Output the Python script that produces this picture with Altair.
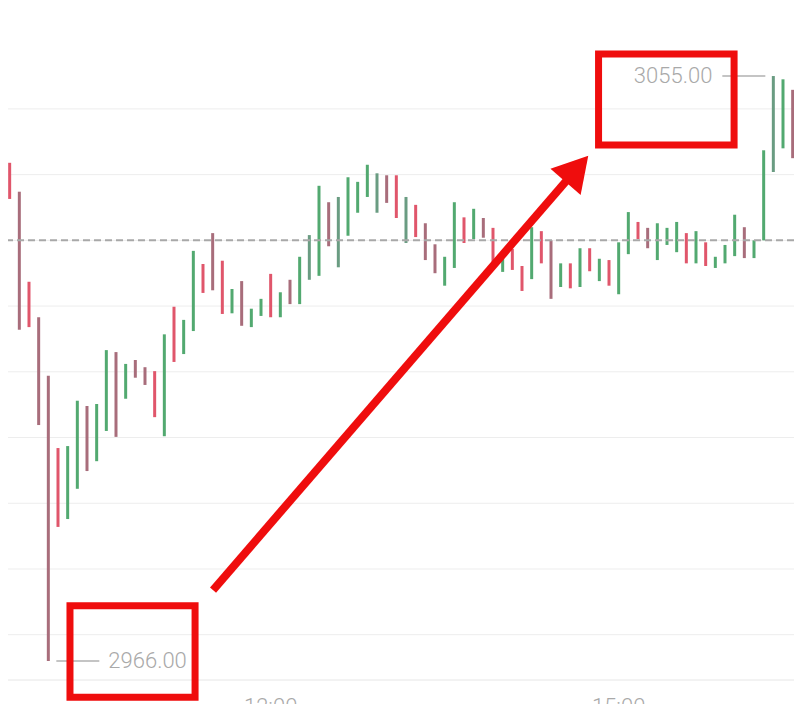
import altair as alt
import pandas as pd

# ---------------- data ----------------
START = "09:40"          # first (cut-off) bar
STEP_MIN = 5             # 5-minute bars
HIGH = [3046.9, 3041.8, 3037.4, 3023.7, 3018.3, 3009.4, 2998.4, 2998.7, 3005.6, 3004.8,
        3005.1, 3013.3, 3013.0, 3011.2, 3011.8, 3010.7, 3010.1, 3015.7, 3019.9, 3017.9,
        3028.4, 3026.4, 3031.1, 3026.9, 3022.6, 3023.8, 3019.6, 3021.1, 3024.9, 3022.1,
        3024.0, 3027.5, 3030.8, 3038.3, 3035.8, 3036.6, 3039.6, 3038.9, 3041.5, 3040.2,
        3039.9, 3039.9, 3036.6, 3035.4, 3032.6, 3029.4, 3027.5, 3035.8, 3033.5, 3034.8,
        3033.4, 3031.9, 3028.4, 3028.7, 3026.1, 3032.0, 3031.4, 3030.0, 3026.5, 3026.5,
        3028.8, 3028.8, 3027.2, 3027.0, 3029.7, 3034.3, 3032.8, 3031.9, 3032.6, 3031.9,
        3032.8, 3031.1, 3031.4, 3029.7, 3027.5, 3029.3, 3033.9, 3032.0, 3030.0, 3043.7,
        3055.0, 3054.5, 3052.9, 3043.7]
LOW = [3039.8, 3036.3, 3016.4, 3016.8, 3001.9, 2966.0, 2986.4, 2987.6, 2992.2, 2994.9,
       2996.4, 3001.0, 3000.1, 3005.9, 3009.1, 3008.0, 3003.1, 3000.2, 3011.5, 3012.7,
       3016.2, 3022.0, 3022.4, 3018.8, 3018.9, 3017.0, 3016.8, 3018.5, 3018.3, 3018.3,
       3020.3, 3020.3, 3024.0, 3024.6, 3029.1, 3025.9, 3030.7, 3034.2, 3036.6, 3034.2,
       3035.7, 3033.4, 3029.6, 3030.5, 3027.0, 3025.0, 3023.1, 3025.8, 3029.6, 3030.2,
       3030.4, 3026.7, 3025.2, 3025.5, 3022.3, 3024.1, 3026.5, 3021.1, 3022.9, 3022.7,
       3022.9, 3025.3, 3023.8, 3023.1, 3021.8, 3027.9, 3030.2, 3028.8, 3027.0, 3029.3,
       3028.2, 3026.5, 3026.5, 3026.1, 3025.8, 3026.5, 3027.6, 3027.3, 3027.3, 3030.0,
       3040.4, 3044.0, 3042.5, 3039.2]
# G = up, g = up (greyish), R = down, M = down (muted)
DIR = ["R", "R", "M", "R", "M", "M", "R", "G", "G", "M",
       "G", "G", "M", "G", "M", "M", "R", "G", "R", "G",
       "G", "R", "M", "R", "G", "M", "G", "G", "R", "G",
       "M", "G", "g", "G", "M", "g", "G", "G", "G", "g",
       "M", "R", "g", "R", "M", "M", "G", "G", "R", "G",
       "M", "R", "G", "R", "R", "G", "R", "M", "G", "R",
       "G", "R", "G", "R", "G", "G", "R", "M", "G", "G",
       "G", "R", "G", "R", "G", "G", "G", "M", "G", "G",
       "g", "G", "M", "R"]
LAST_PRICE = 3030.0
GRID_PRICES = [2970, 2980, 2990, 3000, 3010, 3020, 3030, 3040, 3050]
TIME_TICKS = ["12:00", "15:00"]

DIR_CODES = ["G", "g", "R", "M"]
DIR_COLORS = ["#52a970", "#6a9c82", "#e0566b", "#a86d7b"]

# annotation geometry in data units (minutes of day, price)
BOX_HIGH = dict(t1=889.6, t2=959.7, p1=3044.5, p2=3058.35)
BOX_LOW = dict(t1=616.2, t2=680.9, p1=2960.5, p2=2974.4)
ARROW = dict(t1=690.2, p1=2976.8, t2=878.4, p2=3040.9)
ANNOT_RED = "#ef0d0d"
LABEL_GREY = "#a9a9a9"

# ---------------- layout ----------------
W, H = 786, 672
X_DOMAIN = [584.14, 990.69]
Y_DOMAIN = [2963.11, 3065.35]
PX_PER_MIN = W / (X_DOMAIN[1] - X_DOMAIN[0])


def to_min(s):
    h, m = s.split(":")
    return int(h) * 60 + int(m)


t0 = to_min(START)
df = pd.DataFrame({
    "t": [t0 + STEP_MIN * i for i in range(len(HIGH))],
    "hi": HIGH,
    "lo": LOW,
    "dir": DIR,
})

xs = alt.Scale(domain=X_DOMAIN, nice=False, zero=False)
ys = alt.Scale(domain=Y_DOMAIN, nice=False, zero=False)

# grid lines and bottom axis line
grid = alt.Chart(pd.DataFrame({"p": GRID_PRICES})).mark_rule(
    color="#ededed", strokeWidth=1
).encode(y=alt.Y("p:Q", scale=ys, axis=None))

bottom_line = alt.Chart(pd.DataFrame({"p": [0]})).mark_rule(
    color="#e6e6e6", strokeWidth=1
).encode(y=alt.value(H))

time_labels = alt.Chart(pd.DataFrame({
    "t": [to_min(s) for s in TIME_TICKS], "s": TIME_TICKS})).mark_text(
    align="center", baseline="top", font="Roboto", fontSize=22, fontWeight=300,
    color=LABEL_GREY
).encode(x=alt.X("t:Q", scale=xs, axis=None), y=alt.value(H + 17), text="s:N")

bars = alt.Chart(df).mark_rule(strokeWidth=3, strokeCap="butt", clip=True).encode(
    x=alt.X("t:Q", scale=xs, axis=None),
    y=alt.Y("hi:Q", scale=ys, axis=None),
    y2="lo:Q",
    color=alt.Color("dir:N", scale=alt.Scale(domain=DIR_CODES, range=DIR_COLORS),
                    legend=None),
)

last_line = alt.Chart(pd.DataFrame({"p": [LAST_PRICE]})).mark_rule(
    color="#a8a8a8", strokeWidth=2, strokeDash=[7, 4]
).encode(y=alt.Y("p:Q", scale=ys, axis=None))

# extreme labels
imax = df["hi"].idxmax()
imin = df["lo"].idxmin()
tmax, pmax = df.loc[imax, "t"], df.loc[imax, "hi"]
tmin, pmin = df.loc[imin, "t"], df.loc[imin, "lo"]
lead = pd.DataFrame({
    "a": [tmax - 8 / PX_PER_MIN, tmin + 8 / PX_PER_MIN],
    "b": [tmax - 51 / PX_PER_MIN, tmin + 51 / PX_PER_MIN],
    "p": [pmax, pmin],
})
leaders = alt.Chart(lead).mark_rule(color="#c4c4c4", strokeWidth=2).encode(
    x=alt.X("a:Q", scale=xs, axis=None), x2="b:Q",
    y=alt.Y("p:Q", scale=ys, axis=None))

txt_max = alt.Chart(pd.DataFrame({"t": [tmax], "p": [pmax], "s": [f"{pmax:.2f}"]})).mark_text(
    align="right", baseline="middle", dx=-61, font="Roboto", fontSize=22,
    fontWeight=300, color=LABEL_GREY
).encode(x=alt.X("t:Q", scale=xs, axis=None), y=alt.Y("p:Q", scale=ys, axis=None), text="s:N")

txt_min = alt.Chart(pd.DataFrame({"t": [tmin], "p": [pmin], "s": [f"{pmin:.2f}"]})).mark_text(
    align="left", baseline="middle", dx=60, font="Roboto", fontSize=22,
    fontWeight=300, color=LABEL_GREY
).encode(x=alt.X("t:Q", scale=xs, axis=None), y=alt.Y("p:Q", scale=ys, axis=None), text="s:N")

# red annotations
boxes = alt.Chart(pd.DataFrame([BOX_HIGH, BOX_LOW])).mark_rect(
    fillOpacity=0, stroke=ANNOT_RED, strokeWidth=7
).encode(
    x=alt.X("t1:Q", scale=xs, axis=None), x2="t2:Q",
    y=alt.Y("p1:Q", scale=ys, axis=None), y2="p2:Q")

arrow_line = alt.Chart(pd.DataFrame([ARROW])).mark_rule(
    color=ANNOT_RED, strokeWidth=8, strokeCap="butt"
).encode(
    x=alt.X("t1:Q", scale=xs, axis=None), x2="t2:Q",
    y=alt.Y("p1:Q", scale=ys, axis=None), y2="p2:Q")

arrow_head = alt.Chart(pd.DataFrame([ARROW])).mark_point(
    shape="triangle-up", filled=True, size=1600, angle=41, color=ANNOT_RED, opacity=1
).encode(
    x=alt.X("t2:Q", scale=xs, axis=None),
    y=alt.Y("p2:Q", scale=ys, axis=None))

chart = alt.layer(
    grid, bottom_line, time_labels, bars, last_line, leaders, txt_max, txt_min,
    boxes, arrow_line, arrow_head
).properties(
    width=W, height=H,
    autosize=alt.AutoSizeParams(type="none"),
    padding={"left": 0, "top": 0, "right": 0, "bottom": 24},
    background="white",
).configure_view(stroke=None)

chart.save("out.html", embed_options={"renderer": "svg", "actions": False})
